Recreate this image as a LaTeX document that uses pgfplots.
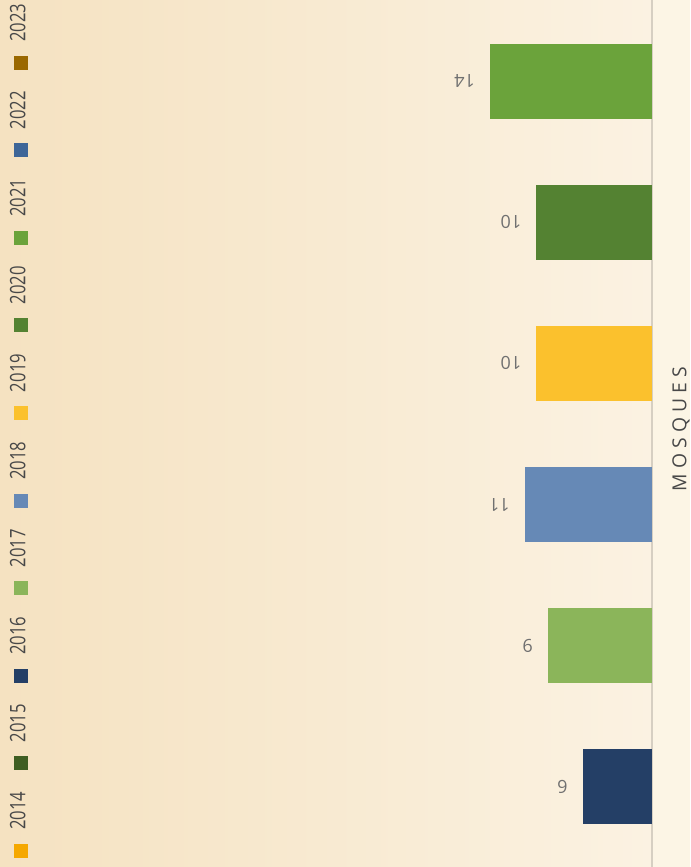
\documentclass[border=0pt]{standalone}
\usepackage{fontspec}
\setmainfont{Open Sans}
\newfontfamily\legfont{Open Sans}[FakeStretch=0.78]
\newfontfamily\catfont{Open Sans}[LetterSpace=26]
\usepackage{graphicx}
\usepackage{pgfplots}
\pgfplotsset{compat=1.18}

\definecolor{c2014}{HTML}{F5A800}
\definecolor{c2015}{HTML}{3F5E22}
\definecolor{c2016}{HTML}{243F66}
\definecolor{c2017}{HTML}{8BB55A}
\definecolor{c2018}{HTML}{6689B6}
\definecolor{c2019}{HTML}{FBC12D}
\definecolor{c2020}{HTML}{548232}
\definecolor{c2021}{HTML}{6BA33B}
\definecolor{c2022}{HTML}{3E6698}
\definecolor{c2023}{HTML}{9A6800}
\definecolor{bgtop}{HTML}{F5E2C1}
\definecolor{bgmid}{HTML}{F8EAD4}
\definecolor{bgbot}{HTML}{FBF2E2}
\definecolor{stripbg}{HTML}{FCF5E5}
\definecolor{axgray}{HTML}{D6CFC2}
\definecolor{txtgray}{HTML}{484848}
\definecolor{labgray}{HTML}{707070}

\pgfplotsset{
  sq/.style={legend image code/.code={\fill[##1, draw=none] (0pt,-6.75pt) rectangle (10.5pt,3.75pt);}},
}

\begin{document}
\rotatebox{90}{%
\begin{tikzpicture}
% background: plot area gradient and the strip under the axis line
\fill[stripbg] (0,-28.5pt) rectangle (650.25pt,0pt);
\shade[top color=bgtop, middle color=bgmid, bottom color=bgbot] (0,0) rectangle (650.25pt,489pt);
\begin{axis}[
  at={(0,0)}, anchor=south west,
  scale only axis, width=650.25pt, height=489pt,
  xmin=2015.433, xmax=2021.574,
  ymin=0, ymax=56.3,
  enlargelimits=false,
  ybar, bar width=0.531,
  axis y line=none,
  axis x line*=bottom,
  x axis line style={draw=axgray, line width=1.5pt, -},
  xtick=\empty, ytick=\empty,
  xlabel={\catfont MOSQUES},
  xlabel style={at={(axis description cs:0.505,0)}, anchor=north, yshift=-15pt,
    inner sep=0pt, font=\fontsize{14.5pt}{16pt}\selectfont, text=txtgray},
  nodes near coords,
  /pgf/number format/assume math mode=true,
  every node near coord/.style={rotate=90, anchor=west, inner sep=0pt, inner xsep=11pt,
    font=\fontsize{13.5pt}{16pt}\selectfont, text=labgray},
  legend columns=10,
  legend style={at={(axis description cs:0.0104,0.9847)}, anchor=north west,
    draw=none, fill=none, inner sep=0pt, outer sep=0pt,
    font=\legfont\fontsize{16pt}{18pt}\selectfont, text=txtgray,
    nodes={inner sep=0pt},
    /tikz/every odd column/.append style={column sep=10.5pt},
    /tikz/every even column/.append style={column sep=16.15pt}},
]
\addlegendimage{sq, fill=c2014}\addlegendentry{2014}
\addlegendimage{sq, fill=c2015}\addlegendentry{2015}
\addplot[sq, fill=c2016, draw=none, bar shift=0pt] coordinates {(2016,6)};
\addlegendentry{2016}
\addplot[sq, fill=c2017, draw=none, bar shift=0pt] coordinates {(2017,9)};
\addlegendentry{2017}
\addplot[sq, fill=c2018, draw=none, bar shift=0pt] coordinates {(2018,11)};
\addlegendentry{2018}
\addplot[sq, fill=c2019, draw=none, bar shift=0pt] coordinates {(2019,10)};
\addlegendentry{2019}
\addplot[sq, fill=c2020, draw=none, bar shift=0pt] coordinates {(2020,10)};
\addlegendentry{2020}
\addplot[sq, fill=c2021, draw=none, bar shift=0pt] coordinates {(2021,14)};
\addlegendentry{2021}
\addlegendimage{sq, fill=c2022}\addlegendentry{2022}
\addlegendimage{sq, fill=c2023}\addlegendentry{2023}
\end{axis}
\pgfresetboundingbox
\path[use as bounding box] (0,-28.5pt) rectangle (650.25pt,489pt);
\end{tikzpicture}}
\end{document}
